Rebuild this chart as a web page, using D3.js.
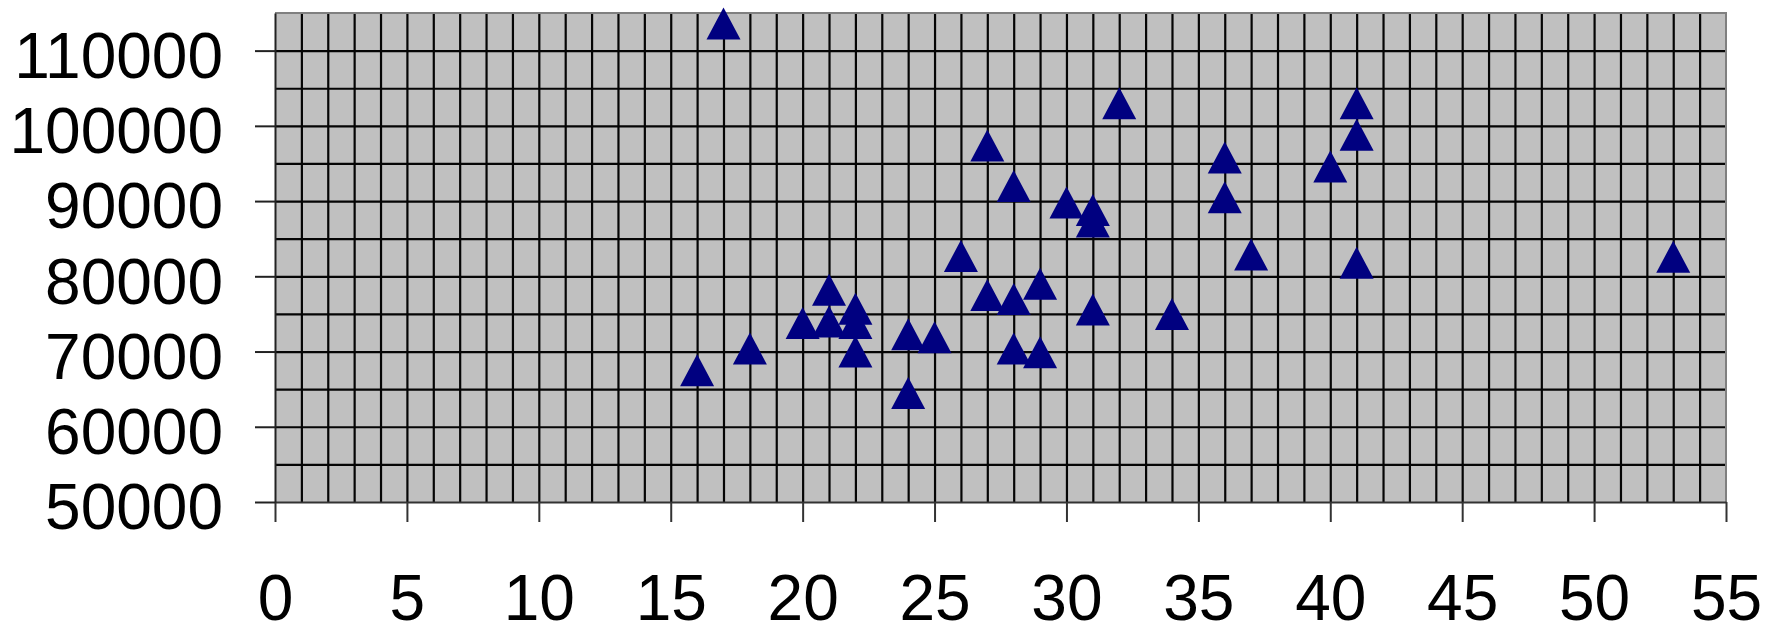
<!DOCTYPE html>
<html>
<head>
<meta charset="utf-8">
<script src="https://cdn.jsdelivr.net/npm/d3@7"></script>
<style>
  body { margin: 0; background: #fff; }
  text { font-family: "Liberation Sans", Arial, sans-serif; }
</style>
</head>
<body>
<div id="chart"></div>
<script>
var margin = { top: 13, right: 41, bottom: 134, left: 275 },
    width = 1767 - margin.left - margin.right,
    height = 636 - margin.top - margin.bottom;

// data
let xValues = [16, 17, 18, 20, 21, 21, 22, 22, 22, 24, 24, 25, 26, 27, 27, 28, 28, 28,
               29, 29, 30, 31, 31, 31, 32, 34, 36, 36, 37, 40, 41, 41, 41, 53];
let yValues = [67500, 113600, 70400, 73800, 78200, 74000, 75700, 73800, 70000, 72300, 64500, 71900, 82700, 97400, 77500, 92000, 77000, 70400,
               79000, 69900, 89800, 88800, 87300, 75600, 103000, 75000, 95800, 90500, 82900, 94600, 103000, 98800, 81800, 82600];
let xTicks = [0, 5, 10, 15, 20, 25, 30, 35, 40, 45, 50, 55];
let yTicks = [50000, 60000, 70000, 80000, 90000, 100000, 110000];

let svg = d3.select("#chart").append("svg")
    .attr("width", width + margin.left + margin.right)
    .attr("height", height + margin.top + margin.bottom)
    .append("g")
    .attr("transform", "translate(" + margin.left + "," + margin.top + ")")

let x = d3.scaleLinear().domain([0, 55]).range([0, width]);
let y = d3.scaleLinear().domain([50000, 115000]).range([height, 0]);

// plot background
svg.append("rect")
    .attr("width", width)
    .attr("height", height)
    .attr("fill", "#c0c0c0")

// grid: every 1 on x, every 5000 on y
svg.append("g")
    .attr("class", "grid")
    .call(d3.axisBottom(x).tickValues(d3.range(1, 55)).tickSize(height).tickFormat(""))
    .call(g => g.select(".domain").remove())
    .selectAll("line").attr("stroke", "#050505").attr("stroke-width", 2.2)

svg.append("g")
    .attr("class", "grid")
    .call(d3.axisLeft(y).tickValues(d3.range(55000, 115000, 5000)).tickSize(-width).tickFormat(""))
    .call(g => g.select(".domain").remove())
    .selectAll("line").attr("stroke", "#050505").attr("stroke-width", 2.2)

// border top / right
svg.append("path")
    .attr("d", "M0,0H" + width + "V" + height)
    .attr("fill", "none")
    .attr("stroke", "#808080")
    .attr("stroke-width", 2)

// axes
let xAxis = svg.append("g")
    .attr("transform", "translate(0," + height + ")")
    .call(d3.axisBottom(x).tickValues(xTicks).tickFormat(d3.format("d")).tickSize(20).tickSizeOuter(0).tickPadding(53))
xAxis.select(".domain").attr("stroke", "#333").attr("stroke-width", 2)
xAxis.selectAll(".tick line").attr("stroke", "#333").attr("stroke-width", 2)
xAxis.selectAll("text").attr("font-size", 64).attr("fill", "#000")
    .attr("font-family", "Liberation Sans, Arial, sans-serif")

let yAxis = svg.append("g")
    .call(d3.axisLeft(y).tickValues(yTicks).tickFormat(d3.format("d")).tickSize(20).tickSizeOuter(0).tickPadding(32))
yAxis.select(".domain").attr("stroke", "#222").attr("stroke-width", 2)
yAxis.selectAll(".tick line").attr("stroke", "#222").attr("stroke-width", 2)
yAxis.selectAll("text").attr("font-size", 64).attr("fill", "#000").attr("dy", "0.42em")
    .attr("font-family", "Liberation Sans, Arial, sans-serif")

// markers: triangle centred on its box, 34 wide, 32 tall
let triW = 34, triH = 32;
svg.append("g")
    .selectAll("path")
    .data(xValues.map((v, i) => ({ x: v, y: yValues[i] })))
    .enter()
    .append("path")
    .attr("d", "M0," + (-triH / 2) + "L" + (triW / 2) + "," + (triH / 2) + "L" + (-triW / 2) + "," + (triH / 2) + "Z")
    .attr("transform", d => "translate(" + x(d.x) + "," + y(d.y) + ")")
    .attr("fill", "#000080")
</script>
</body>
</html>
